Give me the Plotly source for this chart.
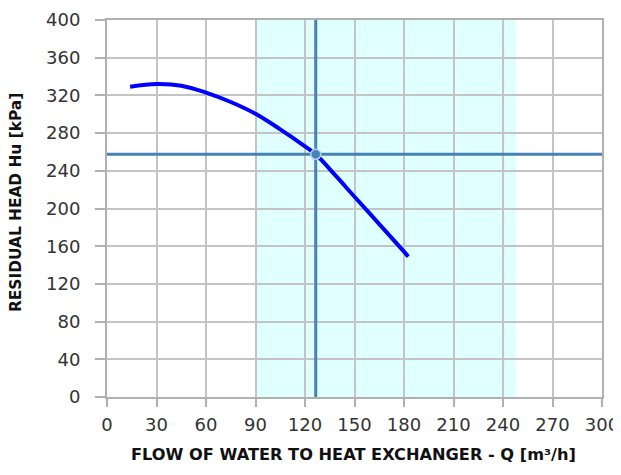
import plotly.graph_objects as go

# Pump curve (flow Q [m3/h], residual head Hu [kPa])
curve_q = [14, 30, 45, 60, 75, 90, 105, 120, 126.5, 139, 150, 165, 180, 182.6]
curve_h = [329.2, 332.0, 330.3, 323.0, 313.0, 300.5, 284.0, 266.0, 257.5, 234.0, 212.5, 183.5, 154.2, 149.0]

# Operating point
op_q = 126.5
op_h = 257.5

# Recommended flow band
band_q = [90, 248]

x_range = [0, 300]
y_range = [0, 400]
x_ticks = [0, 30, 60, 90, 120, 150, 180, 210, 240, 270, 300]
y_ticks = [0, 40, 80, 120, 160, 200, 240, 280, 320, 360, 400]

x_title = "FLOW OF WATER TO HEAT EXCHANGER - Q [m³/h]"
y_title = "RESIDUAL HEAD Hu [kPa]"

# figure is placed 8px into the page by the default body margin
W, H = 613, 459
L, R, T, B = 99, 19, 12, 70

fig = go.Figure()

fig.add_shape(type="rect", xref="x", yref="y",
              x0=band_q[0], x1=band_q[1], y0=y_range[0], y1=y_range[1],
              fillcolor="#e0ffff", line_width=0, layer="below")

# Operating point cross-hair lines
fig.add_trace(go.Scatter(x=x_range, y=[op_h, op_h], mode="lines",
                         line=dict(color="#4682b4", width=3), hoverinfo="skip",
                         showlegend=False))
fig.add_trace(go.Scatter(x=[op_q, op_q], y=y_range, mode="lines",
                         line=dict(color="#4682b4", width=3), hoverinfo="skip",
                         showlegend=False))

fig.add_trace(go.Scatter(x=curve_q, y=curve_h, mode="lines",
                         line=dict(color="#0000ff", width=4, shape="spline", smoothing=1.0),
                         showlegend=False))

fig.add_trace(go.Scatter(x=[op_q], y=[op_h], mode="markers",
                         marker=dict(color="#4682b4", size=10,
                                     line=dict(color="#b8d0e6", width=1.5)),
                         showlegend=False))

axis_common = dict(
    showgrid=True, gridcolor="#c4c4c4", gridwidth=2,
    zeroline=False, showline=True, linecolor="#b0b0b0", linewidth=2, mirror=True,
    ticks="outside", tickwidth=2, tickcolor="#b0b0b0",
    tickfont=dict(family="DejaVu Sans", size=18, color="#333333"),
    automargin=False,
)

fig.update_xaxes(range=x_range, tickvals=x_ticks, ticklen=8, ticklabelstandoff=2,
                 **axis_common)
fig.update_yaxes(range=y_range, tickvals=y_ticks, ticklen=10, ticklabelstandoff=11,
                 **axis_common)

fig.add_annotation(text=x_title, xref="paper", yref="paper",
                   x=(345.5 - L) / (W - L - R), y=-(447 - (H - B)) / (H - T - B),
                   xanchor="center", yanchor="middle", showarrow=False,
                   font=dict(family="DejaVu Sans", size=16.2, color="#111111", weight="bold"))
fig.add_annotation(text=y_title, xref="paper", yref="paper",
                   x=-(L - 8) / (W - L - R), y=((H - B) - 195) / (H - T - B),
                   xanchor="center", yanchor="middle", textangle=-90,
                   showarrow=False,
                   font=dict(family="DejaVu Sans", size=15.4, color="#111111", weight="bold"))

fig.update_layout(
    width=W, height=H,
    margin=dict(l=L, r=R, t=T, b=B, autoexpand=False),
    plot_bgcolor="white", paper_bgcolor="white",
    showlegend=False,
)

fig.write_html("out.html")
